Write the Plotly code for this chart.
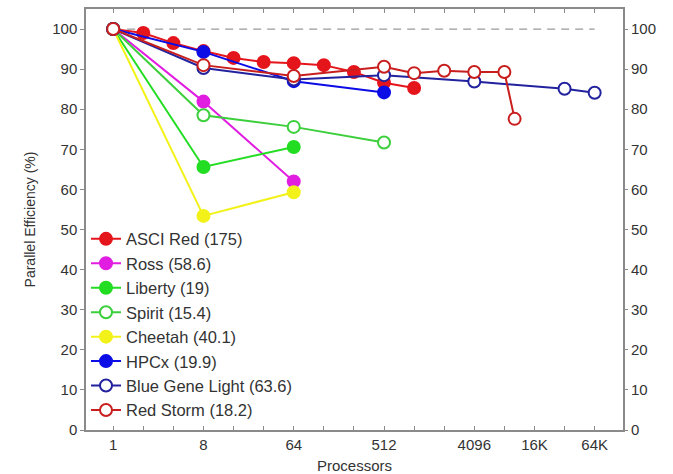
import plotly.graph_objects as go

# ---- data ----
asci_x = [1, 2, 4, 8, 16, 32, 64, 128, 256, 512, 1024]
asci_y = [100, 99.0, 96.5, 94.5, 92.8, 91.8, 91.5, 91.0, 89.3, 86.6, 85.3]

ross_x = [1, 8, 64]
ross_y = [100, 81.9, 62.0]

liberty_x = [1, 8, 64]
liberty_y = [100, 65.6, 70.6]

spirit_x = [1, 8, 64, 512]
spirit_y = [100, 78.5, 75.6, 71.7]

cheetah_x = [1, 8, 64]
cheetah_y = [100, 53.4, 59.3]

hpcx_x = [1, 8, 64, 512]
hpcx_y = [100, 94.3, 87.0, 84.2]

bgl_x = [1, 8, 64, 512, 4096, 32768, 65536]
bgl_y = [100, 90.3, 87.4, 88.5, 86.9, 85.1, 84.1]

rs_x = [1, 8, 64, 512, 1024, 2048, 4096, 8192, 10368]
rs_y = [100, 91.0, 88.3, 90.6, 89.0, 89.6, 89.3, 89.3, 77.6]

ref_x = [1, 65536]
ref_y = [100, 100]

x_tickvals = [1, 8, 64, 512, 4096, 16384, 65536]
x_ticktext = ["1", "8", "64", "512", "4096", "16K", "64K"]
x_minor = [2 ** k for k in range(17)]
y_tickvals = list(range(0, 101, 10))

series = [
    ("ASCI Red (175)", asci_x, asci_y, "#e5151c", True),
    ("Ross (58.6)", ross_x, ross_y, "#e01de0", True),
    ("Liberty (19)", liberty_x, liberty_y, "#22dd22", True),
    ("Spirit (15.4)", spirit_x, spirit_y, "#3ccf3c", False),
    ("Cheetah (40.1)", cheetah_x, cheetah_y, "#f2f21a", True),
    ("HPCx (19.9)", hpcx_x, hpcx_y, "#0c0ce6", True),
    ("Blue Gene Light (63.6)", bgl_x, bgl_y, "#22229e", False),
    ("Red Storm (18.2)", rs_x, rs_y, "#c81e1e", False),
]

fig = go.Figure()

fig.add_trace(go.Scatter(
    x=ref_x, y=ref_y, mode="lines", showlegend=False, hoverinfo="skip",
    line=dict(color="#9a9a9a", width=1.2, dash="8px,6px"),
))
# same reference line on the right-hand axis (invisible) so that axis is drawn
fig.add_trace(go.Scatter(
    x=ref_x, y=ref_y, mode="lines", showlegend=False, hoverinfo="skip",
    yaxis="y2", line=dict(color="rgba(0,0,0,0)", width=0),
))

for name, xs, ys, c, filled in series:
    fig.add_trace(go.Scatter(
        x=xs, y=ys, name=name, mode="lines+markers",
        line=dict(color=c, width=2),
        marker=dict(
            symbol="circle", size=12,
            color=c if filled else "white",
            line=dict(color=c, width=2),
        ),
    ))

axis_color = "#8a8a8a"
font_color = "#333333"

fig.update_layout(
    width=673, height=474,
    margin=dict(l=86, r=50, t=9, b=44),
    paper_bgcolor="white", plot_bgcolor="white",
    font=dict(family="Liberation Sans, Arial, sans-serif", size=15, color=font_color),
    showlegend=True,
    legend=dict(
        x=0.0, y=0.495, xanchor="left", yanchor="top",
        bgcolor="rgba(255,255,255,0)", borderwidth=0,
        font=dict(size=16.5, color=font_color),
        itemwidth=30,
    ),
    xaxis=dict(
        type="log", automargin=False,
        range=[-0.272, 5.10],
        tickvals=x_tickvals, ticktext=x_ticktext,
        ticks="inside", ticklen=4, tickcolor=axis_color,
        minor=dict(tickvals=x_minor, ticks="inside", ticklen=4, tickcolor=axis_color),
        showline=True, linecolor=axis_color, linewidth=1.5, mirror="ticks",
        showgrid=False, zeroline=False,
        tickfont=dict(size=15, color=font_color),
        title=dict(text="Processors", font=dict(size=15, color=font_color), standoff=9),
    ),
    yaxis=dict(
        range=[0, 105], automargin=False,
        tickvals=y_tickvals,
        ticks="outside", ticklen=4, tickcolor=axis_color,
        showline=True, linecolor=axis_color, linewidth=1.5, mirror=True,
        showgrid=False, zeroline=False,
        tickfont=dict(size=15, color=font_color),
        title=dict(text="Parallel Efficiency (%)", font=dict(size=14, color=font_color), standoff=13),
    ),
    yaxis2=dict(
        range=[0, 105], overlaying="y", side="right", automargin=False,
        tickvals=y_tickvals,
        ticks="outside", ticklen=4, tickcolor=axis_color,
        showline=False, showgrid=False, zeroline=False,
        tickfont=dict(size=15, color=font_color),
    ),
)

fig.write_html("out.html")
